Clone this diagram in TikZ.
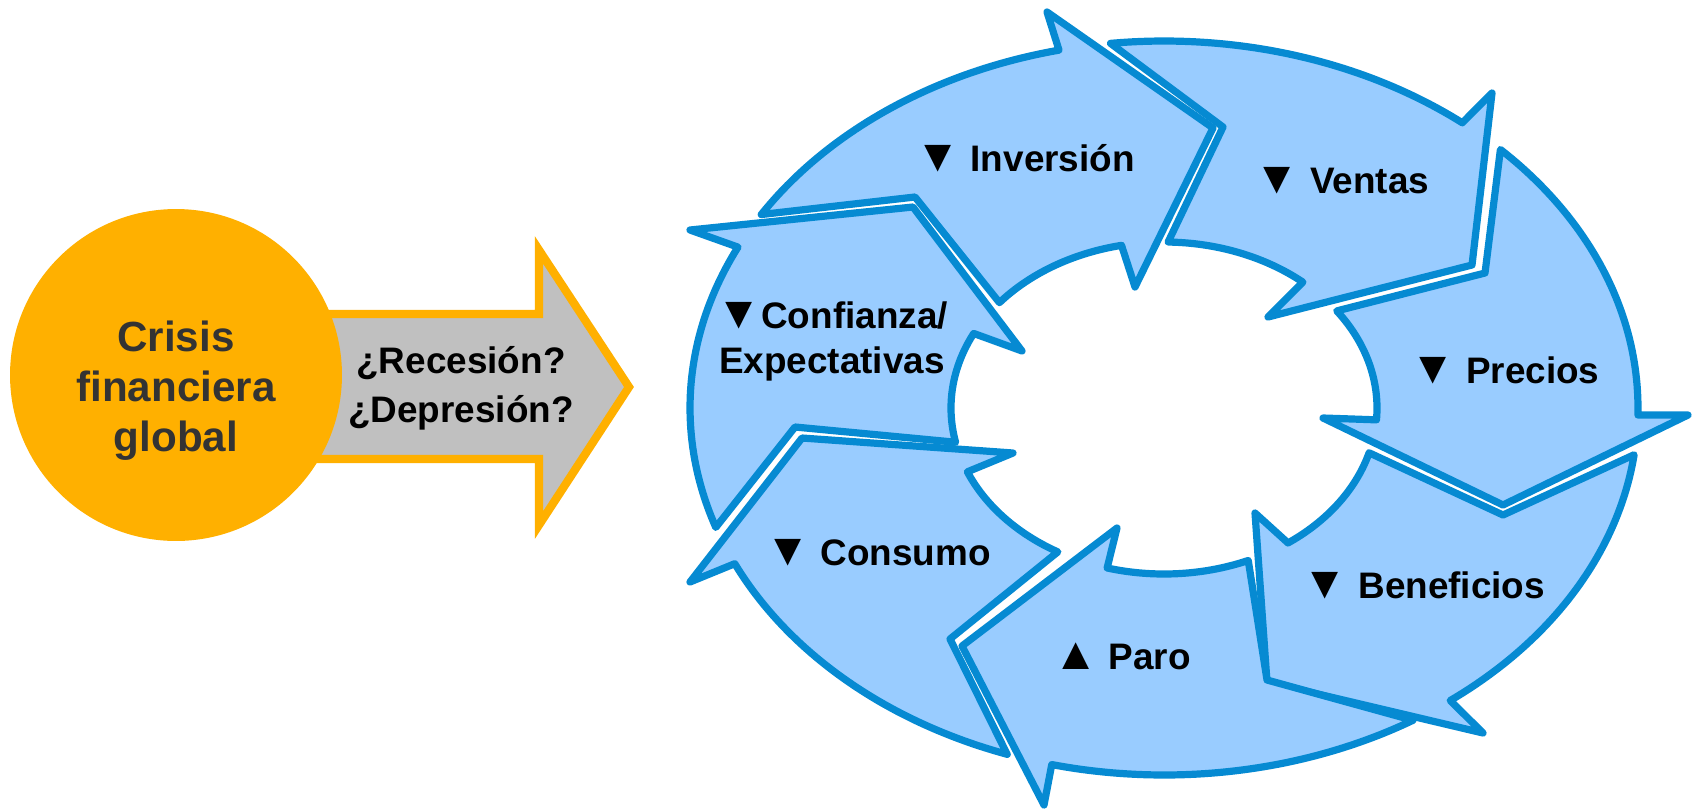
\documentclass[tikz,border=0pt]{standalone}
\usepackage{fontspec}
\setmainfont{Liberation Sans}
\definecolor{ringblue}{RGB}{6,138,210}
\definecolor{ringfill}{RGB}{153,204,255}
\definecolor{crisisorange}{RGB}{255,176,0}
\definecolor{arrowgray}{RGB}{192,192,192}
\definecolor{crisistext}{RGB}{51,51,51}
\newcommand{\tridown}{{\fontsize{26}{26}\selectfont ▼}}
\newcommand{\triup}{{\fontsize{26}{26}\selectfont ▲}}
\begin{document}
\begin{tikzpicture}[x=0.02cm,y=-0.02cm,
  seg/.style={draw=ringblue, fill=ringfill, line width=4.1pt, line join=round},
  lab/.style={font=\fontsize{21}{25.7}\selectfont\bfseries, text=black, align=center, inner sep=0pt, anchor=base},
  oarc/.style 2 args={insert path={-- plot[domain=0:1,samples=50,variable=\s] ({1164+474*cos(#1+(#2-#1)*\s)},{408+367*sin(#1+(#2-#1)*\s)})}},
  iarc/.style 2 args={insert path={-- plot[domain=0:1,samples=40,variable=\s] ({1164+213*cos(#1+(#2-#1)*\s)},{408+166*sin(#1+(#2-#1)*\s)})}},
]
\useasboundingbox (0,0) rectangle (1697,809);

% left part: arrow behind circle
\path[draw=crisisorange, fill=arrowgray, line width=4.7pt, miter limit=10]
  (250,314) -- (539,314) -- (539,250) -- (629,387) -- (539,525) -- (539,459) -- (250,459) -- cycle;
\node[circle, fill=crisisorange, minimum size=6.64cm, inner sep=0pt] (crisis) at (176,375) {};
\node[font=\fontsize{24}{28.5}\selectfont\bfseries, text=crisistext, align=center, inner sep=0pt, anchor=base] (crisistxt) at (176,451.7) {Crisis\\financiera\\global};
\node[font=\fontsize{21}{28}\selectfont\bfseries, text=black, align=center, inner sep=0pt, anchor=base] (question) at (461,422.7) {¿Recesión?\\¿Depresión?};

% ring segments
\path[seg] (795,427) [iarc={168.1}{206.7}] -- (1022,351) -- (913,207) -- (690,230) [oarc={206.0}{161.0}] -- cycle;
\path[seg] (915,197) [iarc={219.4}{258.5}] -- (1135,287) -- (1213,128) -- (1047,12) [oarc={257.2}{211.8}] -- cycle;
\path[seg] (1223,127) [iarc={271.1}{310.7}] -- (1268,317) -- (1472,265) -- (1492,93) [oarc={309.0}{263.5}] -- cycle;
\path[seg] (1485,273) [iarc={324.2}{364.1}] -- (1323,418) -- (1503,505) -- (1688,415) [oarc={361.1}{315.2}] -- cycle;
\path[seg] (1503,515) [iarc={15.65}{54.4}] -- (1255,513) -- (1267,682) -- (1483,733) [oarc={52.85}{7.3}] -- cycle;
\path[seg] (1267,680) [iarc={66.7}{105.5}] -- (1117,528) -- (962,646) -- (1044,805) [oarc={103.7}{58.3}] -- cycle;
\path[seg] (950,639) [iarc={119.9}{157.4}] -- (1013,453) -- (802,438) -- (690,582) [oarc={154.9}{109.3}] -- cycle;

% labels
\node[lab] (inv) at (1025,171.5) {\tridown{} Inversión};
\node[lab] (ven) at (1342,193) {\tridown{} Ventas};
\node[lab] (pre) at (1505,383) {\tridown{} Precios};
\node[lab] (ben) at (1424,598) {\tridown{} Beneficios};
\node[lab] (par) at (1122,669) {\triup{} Paro};
\node[lab] (con) at (878,565.7) {\tridown{} Consumo};
\node[lab] (cnf) at (832,373.3) {\tridown{}Confianza/\\Expectativas};
\end{tikzpicture}
\end{document}
